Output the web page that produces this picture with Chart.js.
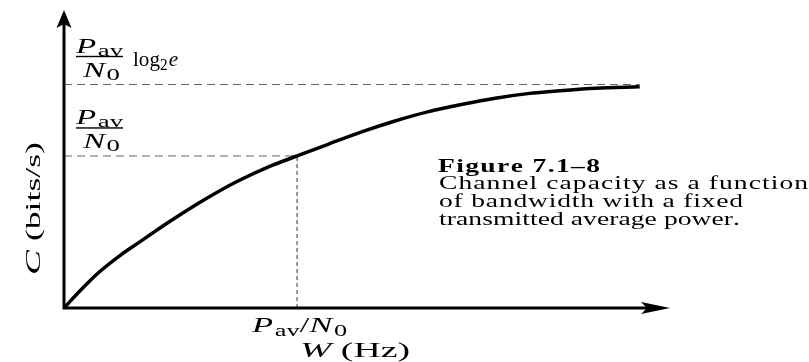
<!DOCTYPE html>
<html>
<head>
<meta charset="utf-8">
<script src="https://cdn.jsdelivr.net/npm/chart.js@4"></script>
<style>
  html, body { margin: 0; padding: 0; background: #fff; }
  canvas { display: block; }
</style>
</head>
<body>
<canvas id="chart" width="809" height="362"></canvas>
<script>
// W in units of Pav/N0
const bandwidth = [0, 0.07, 0.15, 0.24, 0.33, 0.41, 0.49, 0.60, 0.74, 0.88, 1.00,
                   1.13, 1.28, 1.42, 1.56, 1.71, 1.85, 1.99, 2.14, 2.28, 2.47];
// C in units of Pav/N0
const capacity  = [0, 0.115, 0.235, 0.345, 0.44, 0.525, 0.605, 0.71, 0.83, 0.93, 1.00,
                   1.075, 1.16, 1.23, 1.29, 1.34, 1.38, 1.41, 1.43, 1.445, 1.455];
const limitC = 1.47;   // (Pav/N0) log2 e, as drawn
const kneeW = 1;       // W = Pav/N0
const kneeC = 1;       // C = Pav/N0
const maxW = 2.6;
const maxC = 1.96;

const SERIF = '"Liberation Serif", "Times New Roman", serif';

// draw a row of text pieces so that it fills a given width:
// horizontal stretch up to maxSx, the rest as letter spacing
function drawRuns(ctx, runs, x, y, width, maxSx) {
  let w0 = 0, n = 0;
  runs.forEach(r => {
    ctx.font = r.f;
    r.cw = [...r.t].map(c => ctx.measureText(c).width);
    r.cw.forEach(w => { w0 += w; n++; });
    w0 += r.dx || 0;
  });
  const sx = Math.min(width / w0, maxSx || 2);
  const ls = n > 1 ? (width - w0 * sx) / (n - 1) : 0;
  let cx = x;
  runs.forEach(r => {
    ctx.font = r.f;
    cx += (r.dx || 0) * sx;
    [...r.t].forEach((c, i) => {
      ctx.save();
      ctx.translate(cx, y + (r.dy || 0));
      ctx.scale(sx, 1);
      ctx.fillText(c, 0, 0);
      ctx.restore();
      cx += r.cw[i] * sx + ls;
    });
  });
}

function frac(ctx, x0, x1, barY) {
  const it = 'italic 21px ' + SERIF;
  const sub = '17px ' + SERIF;
  drawRuns(ctx, [{ t: 'P', f: it }, { t: 'av', f: sub, dy: 3, dx: 1 }], x0, barY - 4, x1 - x0);
  ctx.fillRect(x0, barY - 0.7, x1 - x0, 1.4);
  drawRuns(ctx, [{ t: 'N', f: it }, { t: '0', f: sub, dy: 3, dx: 1 }], x0 + 7, barY + 20, x1 - x0 - 10);
}

const axesPlugin = {
  id: 'axesAndLabels',
  afterDraw(chart) {
    const ctx = chart.ctx;
    const xs = chart.scales.x, ys = chart.scales.y;
    const ox = xs.getPixelForValue(0), oy = ys.getPixelForValue(0);
    const tipX = xs.getPixelForValue(maxW), tipY = ys.getPixelForValue(maxC);
    ctx.save();
    ctx.fillStyle = '#000';
    ctx.strokeStyle = '#000';
    ctx.lineWidth = 3;
    // axes
    ctx.beginPath();
    ctx.moveTo(ox, tipY + 12);
    ctx.lineTo(ox, oy);
    ctx.lineTo(tipX - 20, oy);
    ctx.stroke();
    // arrow heads
    ctx.beginPath();
    ctx.moveTo(ox, tipY);
    ctx.lineTo(ox - 7.5, tipY + 18);
    ctx.lineTo(ox, tipY + 14);
    ctx.lineTo(ox + 7.5, tipY + 18);
    ctx.closePath();
    ctx.fill();
    ctx.beginPath();
    ctx.moveTo(tipX, oy);
    ctx.lineTo(tipX - 29, oy - 6);
    ctx.lineTo(tipX - 23, oy);
    ctx.lineTo(tipX - 29, oy + 6);
    ctx.closePath();
    ctx.fill();

    ctx.textAlign = 'left';
    ctx.textBaseline = 'alphabetic';
    const it = 'italic 21px ' + SERIF;
    const rm = '21px ' + SERIF;
    const sub = '16px ' + SERIF;

    // y tick labels
    const yLim = ys.getPixelForValue(limitC);
    const yKnee = ys.getPixelForValue(kneeC);
    frac(ctx, 76, 123, yLim - 28);
    drawRuns(ctx, [{ t: 'log', f: '22px ' + SERIF }, { t: '2', f: sub, dy: 4 }, { t: 'e', f: 'italic 22px ' + SERIF, dx: 1 }],
      133, yLim - 19, 45);
    frac(ctx, 76, 123, yKnee - 28);

    // x tick label
    const xKnee = xs.getPixelForValue(kneeW);
    drawRuns(ctx, [
      { t: 'P', f: it }, { t: 'av', f: sub, dy: 4, dx: 1 }, { t: '/', f: rm },
      { t: 'N', f: it }, { t: '0', f: sub, dy: 4, dx: 1 }
    ], xKnee - 45, oy + 24, 95);

    // axis titles
    drawRuns(ctx, [{ t: 'W', f: it }, { t: ' (Hz)', f: rm }], 300, 357, 110);
    ctx.save();
    ctx.translate(40, 275);
    ctx.rotate(-Math.PI / 2);
    drawRuns(ctx, [{ t: 'C', f: it }, { t: ' (bits/s)', f: '20px ' + SERIF }], 0, 0, 133);
    ctx.restore();

    // caption
    drawRuns(ctx, [{ t: 'Figure 7.1\u20138', f: 'bold 19px ' + SERIF }], 438, 172, 162, 1.45);
    drawRuns(ctx, [{ t: 'Channel capacity as a function', f: '19px ' + SERIF }], 439, 189, 369, 1.45);
    drawRuns(ctx, [{ t: 'of bandwidth with a fixed', f: '19px ' + SERIF }], 439, 207, 304, 1.45);
    drawRuns(ctx, [{ t: 'transmitted average power.', f: '19px ' + SERIF }], 439, 225, 301, 1.45);
    ctx.restore();
  }
};

const pts = (xsArr, ysArr) => xsArr.map((x, i) => ({ x, y: ysArr[i] }));

new Chart(document.getElementById('chart'), {
  type: 'line',
  data: {
    datasets: [
      {
        label: 'C(W)',
        data: pts(bandwidth, capacity),
        borderColor: '#000',
        borderWidth: 3.5,
        pointRadius: 0,
        cubicInterpolationMode: 'monotone',
        fill: false
      },
      {
        label: 'limit',
        data: pts([0, bandwidth[bandwidth.length - 1]], [limitC, limitC]),
        borderColor: '#666',
        borderWidth: 1,
        borderDash: [8, 5],
        pointRadius: 0
      },
      {
        label: 'knee-h',
        data: pts([0, kneeW], [kneeC, kneeC]),
        borderColor: '#666',
        borderWidth: 1,
        borderDash: [8, 5],
        pointRadius: 0
      },
      {
        label: 'knee-v',
        data: pts([kneeW, kneeW], [0, kneeC]),
        borderColor: '#333',
        borderWidth: 1,
        borderDash: [4, 3],
        pointRadius: 0
      }
    ]
  },
  options: {
    responsive: false,
    animation: false,
    clip: false,
    layout: { padding: { left: 64, right: 139, top: 10, bottom: 54 } },
    plugins: { legend: { display: false }, tooltip: { enabled: false } },
    scales: {
      x: { type: 'linear', min: 0, max: maxW, display: false },
      y: { type: 'linear', min: 0, max: maxC, display: false }
    }
  },
  plugins: [axesPlugin]
});
</script>
</body>
</html>
